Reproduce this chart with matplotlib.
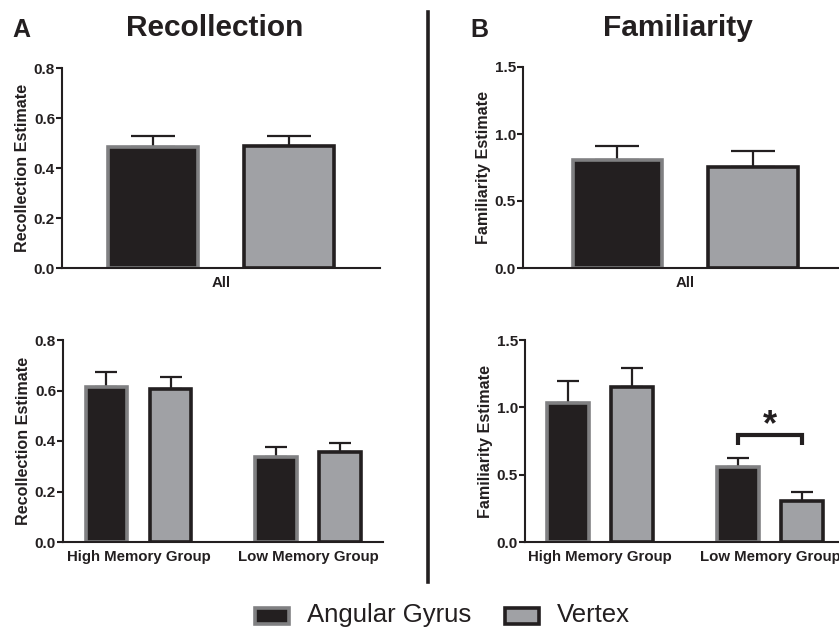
import numpy as np
import matplotlib.pyplot as plt
from matplotlib.patches import Rectangle
from matplotlib.lines import Line2D

plt.rcParams['font.family'] = ['Liberation Sans', 'DejaVu Sans']

# data
series = ["Angular Gyrus", "Vertex"]
groups = ["High Memory Group", "Low Memory Group"]

rec_all = [0.485, 0.487]
rec_all_err = [0.045, 0.042]
fam_all = [0.806, 0.754]
fam_all_err = [0.105, 0.12]

rec_grp_ag = [0.614, 0.337]
rec_grp_ag_err = [0.058, 0.039]
rec_grp_vx = [0.606, 0.356]
rec_grp_vx_err = [0.048, 0.036]

fam_grp_ag = [1.032, 0.557]
fam_grp_ag_err = [0.165, 0.068]
fam_grp_vx = [1.151, 0.304]
fam_grp_vx_err = [0.142, 0.068]

DARK = '#231f20'
GRAY = '#a0a1a5'
EDGE_AG = '#808082'

W, H = 839, 629
fig = plt.figure(figsize=(W / 100, H / 100), dpi=100)


def px_axes(x0, x1, ytop, ybot):
    return fig.add_axes([x0 / W, 1 - ybot / H, (x1 - x0) / W, (ybot - ytop) / H])


def style(ax, ymax, step, ylabel):
    ax.set_ylim(0, ymax)
    ax.set_yticks(np.arange(0, ymax + 1e-9, step))
    ax.yaxis.set_major_formatter(plt.FormatStrFormatter('%.1f'))
    for s in ['top', 'right']:
        ax.spines[s].set_visible(False)
    for s in ['left', 'bottom']:
        ax.spines[s].set_linewidth(1.5)
        ax.spines[s].set_color(DARK)
    ax.tick_params(axis='y', length=4, width=1.5, color=DARK, labelsize=11, pad=1)
    ax.tick_params(axis='x', length=0, labelsize=10.8, pad=6)
    for lab in ax.get_yticklabels() + ax.get_xticklabels():
        lab.set_fontweight('bold')
        lab.set_color(DARK)
    ax.set_ylabel(ylabel, fontsize=11.6, fontweight='bold', color=DARK, labelpad=3)


def bars(ax, x, vals, errs, width, ag, capsize):
    fc = DARK if ag else GRAY
    ec = EDGE_AG if ag else DARK
    ax.errorbar(x, vals, yerr=[np.zeros(len(vals)), errs], fmt='none',
                ecolor=DARK, elinewidth=1.6, capsize=capsize, capthick=1.6, zorder=1)
    ax.bar(x, vals, width=width, color=fc, edgecolor=ec, linewidth=2.6, zorder=2)


# top-left: Recollection, all
ax1 = px_axes(62, 380, 68, 268)
bars(ax1, [0], rec_all[:1], rec_all_err[:1], 0.66, True, 16)
bars(ax1, [1], rec_all[1:], rec_all_err[1:], 0.66, False, 16)
ax1.set_xlim(-0.669, 1.669)
ax1.set_xticks([0.5])
ax1.set_xticklabels(["All"])
style(ax1, 0.8, 0.2, "Recollection Estimate")

# top-right: Familiarity, all
ax2 = px_axes(523, 839, 67, 268)
bars(ax2, [0], fam_all[:1], fam_all_err[:1], 0.66, True, 16)
bars(ax2, [1], fam_all[1:], fam_all_err[1:], 0.66, False, 16)
ax2.set_xlim(-0.697, 1.635)
ax2.set_xticks([0.5])
ax2.set_xticklabels(["All"])
style(ax2, 1.5, 0.5, "Familiarity Estimate")

# bottom-left: Recollection by group
gx = np.arange(len(groups))
off = 0.189
bw = 0.245
ax3 = px_axes(63, 383, 340, 542)
bars(ax3, gx - off, rec_grp_ag, rec_grp_ag_err, bw, True, 8)
bars(ax3, gx + off, rec_grp_vx, rec_grp_vx_err, bw, False, 8)
ax3.set_xlim(-0.445, 1.442)
ax3.set_xticks(gx)
ax3.set_xticklabels(groups)
style(ax3, 0.8, 0.2, "Recollection Estimate")

# bottom-right: Familiarity by group
ax4 = px_axes(525, 839, 340, 542)
bars(ax4, gx - off, fam_grp_ag, fam_grp_ag_err, bw, True, 8)
bars(ax4, gx + off, fam_grp_vx, fam_grp_vx_err, bw, False, 8)
ax4.set_xlim(-0.441, 1.406)
ax4.set_xticks(gx)
ax4.set_xticklabels(groups)
style(ax4, 1.5, 0.5, "Familiarity Estimate")

# significance bracket
bx0, bx1 = 1 - off, 1 + off
ax4.plot([bx0, bx0, bx1, bx1], [0.72, 0.795, 0.795, 0.72], color=DARK,
         lw=3.0, solid_joinstyle='miter', solid_capstyle='butt', clip_on=False)
ax4.text(1.0, 0.735, "*", ha='center', va='bottom', fontsize=26, fontweight='bold', color=DARK)

# titles and panel letters
fig.text(12 / W, 1 - 30 / H, "A", fontsize=18, fontweight='bold', color=DARK, va='center')
fig.text(215 / W, 1 - 28 / H, "Recollection", fontsize=21.5, fontweight='bold', color=DARK,
         ha='center', va='center')
fig.text(470 / W, 1 - 30 / H, "B", fontsize=18, fontweight='bold', color=DARK, va='center')
fig.text(678 / W, 1 - 28 / H, "Familiarity", fontsize=21.5, fontweight='bold', color=DARK,
         ha='center', va='center')

# vertical separator
fig.add_artist(Line2D([428 / W, 428 / W], [1 - 12 / H, 1 - 582 / H], color=DARK, lw=2.6))

# legend drawn by hand
leg_y = 1 - 615 / H
for i, (name, fc, ec) in enumerate([(series[0], DARK, EDGE_AG), (series[1], GRAY, DARK)]):
    x0 = (255 + 250 * i) / W
    fig.add_artist(Rectangle((x0, 1 - 624 / H), 34 / W, 16 / H, transform=fig.transFigure,
                             facecolor=fc, edgecolor=ec, linewidth=2.6))
    fig.text((307 + 250 * i) / W, leg_y, name, fontsize=18.5, color=DARK,
             ha='left', va='center')

fig.savefig("out.png", dpi=100)
